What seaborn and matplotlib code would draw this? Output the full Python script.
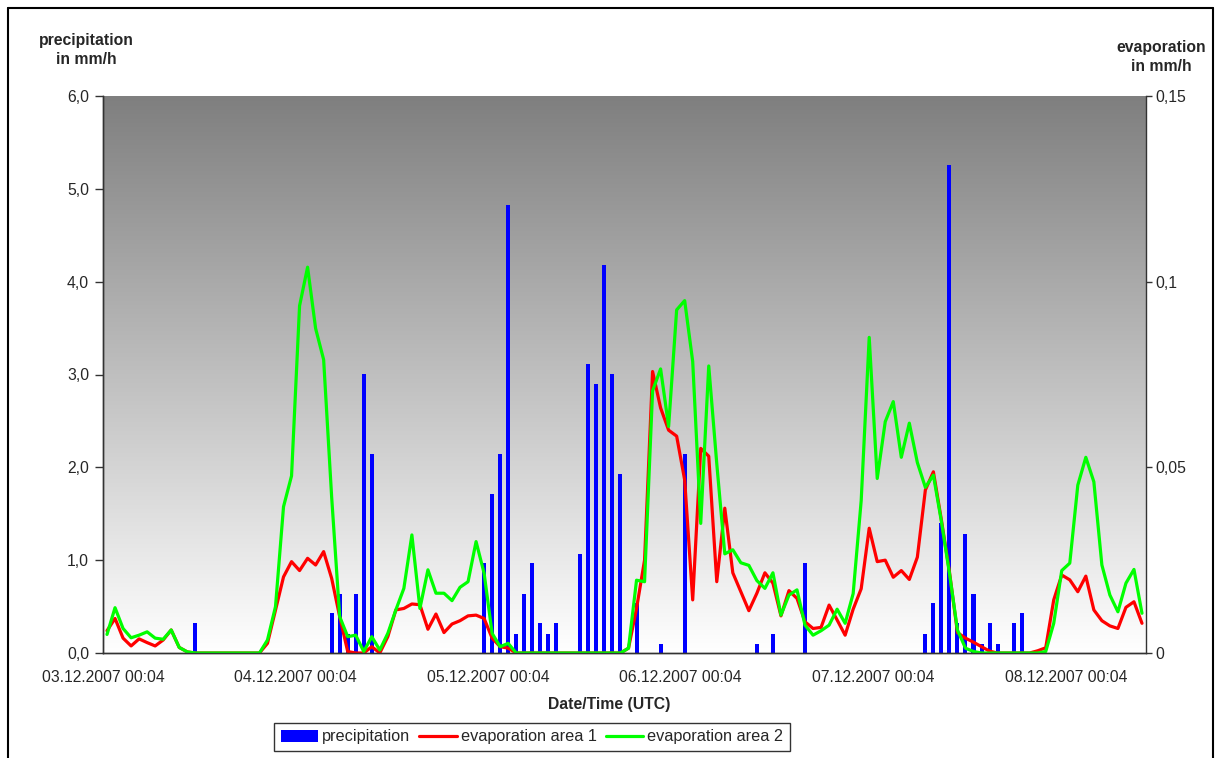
import numpy as np
import pandas as pd
import matplotlib
matplotlib.use("Agg")
import matplotlib.pyplot as plt
import seaborn as sns
from matplotlib.colors import LinearSegmentedColormap
from matplotlib.patches import Patch
from matplotlib.lines import Line2D


# hourly categories, starting 03.12.2007 00:04 (UTC)
hours = list(range(130))
day_labels = ["03.12.2007 00:04", "04.12.2007 00:04", "05.12.2007 00:04",
              "06.12.2007 00:04", "07.12.2007 00:04", "08.12.2007 00:04"]

# precipitation in mm/h (only the hours with rain)
rain_hour = [11, 28, 29, 30, 31, 32, 33, 47, 48, 49, 50, 51, 52, 53, 54, 55, 56,
             59, 60, 61, 62, 63, 64, 66, 69, 72, 81, 83, 87,
             102, 103, 104, 105, 106, 107, 108, 109, 110, 111, 113, 114]
rain_mm = [0.32, 0.43, 0.64, 0.21, 0.64, 3.01, 2.14, 0.97, 1.71, 2.14, 4.83, 0.21, 0.64, 0.97, 0.32, 0.21, 0.32,
           1.07, 3.11, 2.90, 4.18, 3.01, 1.93, 0.54, 0.10, 2.14, 0.10, 0.21, 0.97,
           0.21, 0.54, 1.40, 5.26, 0.32, 1.28, 0.64, 0.10, 0.32, 0.10, 0.32, 0.43]

# evaporation in mm/h
evap_area1 = [
    0.006, 0.0093, 0.0040, 0.0019, 0.0038, 0.0028, 0.0019, 0.0035, 0.0062, 0.0015,
    0.0003, 0, 0, 0, 0, 0, 0, 0, 0, 0,
    0.0026, 0.0116, 0.0205, 0.0246, 0.0222, 0.0255, 0.0237, 0.0273, 0.0201, 0.0098,
    0.0004, 0, 0, 0.0017, 0, 0.0044, 0.0116, 0.012, 0.0132, 0.013,
    0.0064, 0.0105, 0.0055, 0.0078, 0.0087, 0.010, 0.0102, 0.0093, 0.004, 0.0017,
    0.0013, 0, 0, 0, 0, 0, 0, 0, 0, 0,
    0, 0, 0, 0, 0, 0.0013, 0.012, 0.025, 0.0758, 0.066,
    0.060, 0.0584, 0.0466, 0.0143, 0.0551, 0.053, 0.0192, 0.039, 0.0216, 0.0165,
    0.0114, 0.0161, 0.0216, 0.0188, 0.010, 0.0168, 0.0147, 0.0084, 0.0066, 0.0069,
    0.0129, 0.0089, 0.0048, 0.0118, 0.0173, 0.0336, 0.0246, 0.025, 0.0204, 0.0222,
    0.0198, 0.0258, 0.0439, 0.0488, 0.0358, 0.0219, 0.0055, 0.004, 0.0029, 0.0017,
    0.0005, 0, 0, 0, 0, 0, 0.0006, 0.0014, 0.0143, 0.021,
    0.0197, 0.0165, 0.0207, 0.0116, 0.0087, 0.0073, 0.0066, 0.0123, 0.0138, 0.008,
]
evap_area2 = [
    0.005, 0.0122, 0.0066, 0.0041, 0.0048, 0.0057, 0.0040, 0.0037, 0.0062, 0.0015,
    0.0003, 0, 0, 0, 0, 0, 0, 0, 0, 0,
    0.0035, 0.0125, 0.0394, 0.0477, 0.0935, 0.1039, 0.0874, 0.079, 0.042, 0.0098,
    0.0044, 0.0048, 0.0004, 0.0044, 0.0008, 0.0053, 0.0116, 0.0174, 0.0318, 0.012,
    0.0224, 0.0161, 0.0161, 0.0141, 0.0177, 0.0192, 0.030, 0.0215, 0.0053, 0.0017,
    0.0026, 0, 0, 0, 0, 0, 0, 0, 0, 0,
    0, 0, 0, 0, 0, 0.0013, 0.0196, 0.0192, 0.0706, 0.0765,
    0.061, 0.0924, 0.0949, 0.0785, 0.0349, 0.0773, 0.051, 0.0267, 0.0278, 0.0243,
    0.0236, 0.0195, 0.0174, 0.0216, 0.0102, 0.0156, 0.017, 0.0075, 0.0048, 0.006,
    0.0075, 0.0118, 0.008, 0.016, 0.041, 0.085, 0.047, 0.0623, 0.0677, 0.0527,
    0.0619, 0.0513, 0.0446, 0.0479, 0.0354, 0.0215, 0.0062, 0.0013, 0.0004, 0,
    0, 0, 0, 0, 0, 0, 0, 0.0004, 0.008, 0.0222,
    0.0242, 0.0452, 0.0527, 0.0461, 0.0237, 0.0156, 0.0111, 0.0188, 0.0225, 0.0107,
]

precip = [0.0] * len(hours)
for h, v in zip(rain_hour, rain_mm):
    precip[h] = v

df = pd.DataFrame({"hour": hours, "precip": precip,
                   "evap1": evap_area1, "evap2": evap_area2})

sns.set_style("white")
plt.rcParams["font.family"] = ["Liberation Sans", "DejaVu Sans"]
fs = 11.3

fig = plt.figure(figsize=(12.19, 7.58), dpi=100)
ax = fig.add_axes([103 / 1219, 1 - 653 / 758, 1043 / 1219, 557 / 758])

# grey -> white gradient background
cmap = LinearSegmentedColormap.from_list("bg", ["#7f7f7f", "#ffffff"])
ax.imshow(np.linspace(0, 1, 256).reshape(-1, 1), cmap=cmap, aspect="auto",
          extent=[-0.5, 129.5, 0, 6], origin="upper", zorder=0)

sns.barplot(data=df, x="hour", y="precip", ax=ax, color="#0000ff",
            saturation=1, width=0.5, edgecolor="none", linewidth=0, zorder=2)
ax.set_xlim(-0.5, 129.5)
ax.set_ylim(0, 6)
ax.set_xlabel("")
ax.set_ylabel("")

ax2 = ax.twinx()
sns.lineplot(data=df, x="hour", y="evap1", ax=ax2, color="#ff0000", lw=2.3)
sns.lineplot(data=df, x="hour", y="evap2", ax=ax2, color="#00ff00", lw=2.3)
ax2.set_ylim(0, 0.15)
ax2.set_xlim(-0.5, 129.5)
ax2.set_xlabel("")
ax2.set_ylabel("")

# axes / ticks
tick_pos = [-0.5 + 12 * k for k in range(11)]
tick_lab = [day_labels[k // 2] if k % 2 == 0 else "" for k in range(11)]
ax.set_xticks(tick_pos)
ax.set_xticklabels(tick_lab, fontsize=fs)
ax.set_yticks(range(7))
ax.set_yticklabels([f"{v},0" for v in range(7)], fontsize=fs)
ax2.set_yticks([0, 0.05, 0.1, 0.15])
ax2.set_yticklabels(["0", "0,05", "0,1", "0,15"], fontsize=fs)

ax.tick_params(axis="x", length=6, width=1, direction="out", pad=6, color="#333333")
ax.tick_params(axis="y", length=6, width=1, direction="out", pad=4, color="#333333")
ax2.tick_params(axis="y", length=4, width=1, direction="out", pad=3, color="#333333")

for a in (ax, ax2):
    a.spines["top"].set_visible(False)
    for s in ("left", "right", "bottom"):
        a.spines[s].set_color("#333333")
        a.spines[s].set_linewidth(1)
ax.spines["right"].set_visible(False)

# axis titles
fig.text(86.5 / 1219, 1 - 50 / 758, "precipitation\nin mm/h", ha="center", va="center",
         fontsize=fs, fontweight="bold", linespacing=1.35)
fig.text(1161 / 1219, 1 - 57 / 758, "evaporation\nin mm/h", ha="center", va="center",
         fontsize=fs, fontweight="bold", linespacing=1.35)
fig.text(609 / 1219, 1 - 705 / 758, "Date/Time (UTC)", ha="center", va="center",
         fontsize=fs, fontweight="bold")

handles = [Patch(facecolor="#0000ff", edgecolor="none"),
           Line2D([], [], color="#ff0000", lw=2.3),
           Line2D([], [], color="#00ff00", lw=2.3)]
leg = fig.legend(handles, ["precipitation", "evaporation area 1", "evaporation area 2"],
                 loc="center", bbox_to_anchor=(532 / 1219, 1 - 737 / 758), ncol=3,
                 fontsize=11.7, frameon=True, fancybox=False, handlelength=2.3,
                 handletextpad=0.25, columnspacing=0.55, borderpad=0.4, borderaxespad=0)
leg.get_frame().set_edgecolor("black")
leg.get_frame().set_linewidth(1)

# outer chart border (bottom edge is cut off in the original)
for xs, ys in [((8 / 1219, 8 / 1219), (0, 1 - 8 / 758)),
               ((8 / 1219, 1213 / 1219), (1 - 8 / 758, 1 - 8 / 758)),
               ((1213 / 1219, 1213 / 1219), (1 - 8 / 758, 0))]:
    fig.add_artist(Line2D(xs, ys, color="black", lw=1.5, transform=fig.transFigure))

fig.savefig("out.png", dpi=100)
